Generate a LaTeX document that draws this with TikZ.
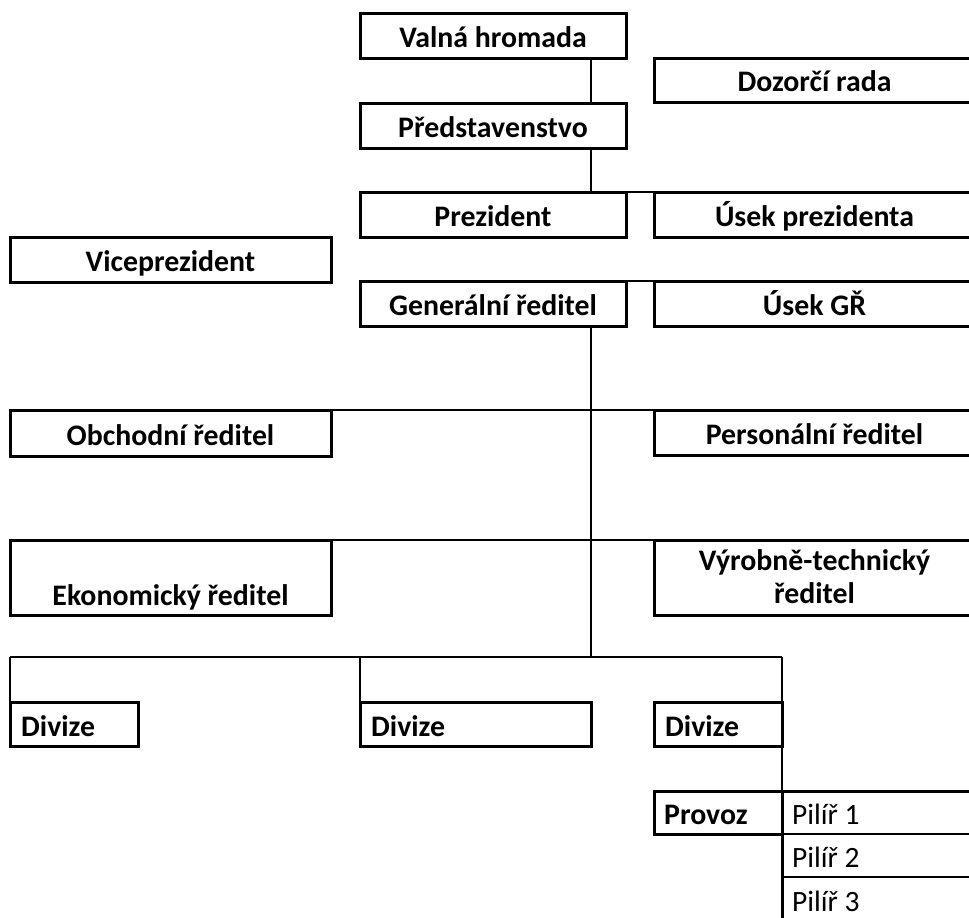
\documentclass[tikz,border=0pt]{standalone}
\usepackage{fontspec}
\setmainfont{Carlito}
\begin{document}
\begin{tikzpicture}[x=1pt,y=-1pt,
  box/.style={draw, line width=3pt, inner sep=0pt, outer sep=0pt, anchor=north west},
  cell/.style={draw, line width=1.4pt, inner sep=0pt, outer sep=0pt, anchor=north west},
  conn/.style={line width=1.4pt},
  thickline/.style={line width=3pt},
  lab/.style={font=\bfseries\fontsize{29.8}{33}\selectfont, inner sep=0pt, anchor=base},
  labw/.style={font=\bfseries\fontsize{29.8}{33}\selectfont, inner sep=0pt, anchor=base west},
  plain/.style={font=\fontsize{29.5}{33}\selectfont, inner sep=0pt, anchor=base west}]
\useasboundingbox (0,0) rectangle (969,918);
\clip (0,0) rectangle (969,918);

% boxes
\node[box, minimum width=266, minimum height=45] (valna) at (360,13) {};
\node[box, minimum width=321, minimum height=44] (dozor) at (654,58) {};
\node[box, minimum width=266, minimum height=45] (pred) at (360,103) {};
\node[box, minimum width=266, minimum height=45] (prez) at (360,192) {};
\node[box, minimum width=321, minimum height=45] (usekp) at (654,192) {};
\node[box, minimum width=321, minimum height=45] (vice) at (10,237) {};
\node[box, minimum width=266, minimum height=45] (gr) at (360,281) {};
\node[box, minimum width=321, minimum height=45] (usekgr) at (654,281) {};
\node[box, minimum width=321, minimum height=46] (obch) at (10,410) {};
\node[box, minimum width=321, minimum height=45] (pers) at (654,410) {};
\node[box, minimum width=321, minimum height=75] (ekon) at (10,540) {};
\node[box, minimum width=321, minimum height=75] (vyr) at (654,540) {};
\node[box, minimum width=128, minimum height=44] (div1) at (10,702) {};
\node[box, minimum width=231, minimum height=44] (div2) at (360,702) {};
\node[box, minimum width=128, minimum height=44] (div3) at (654,702) {};
\node[box, minimum width=128, minimum height=43] (provoz) at (654,791) {};
\node[cell, minimum width=220, minimum height=43] (pil1) at (782,791) {};
\node[cell, minimum width=220, minimum height=43] (pil2) at (782,834) {};
\node[cell, minimum width=220, minimum height=55] (pil3) at (782,877) {};
\draw[thickline] (pil3.south west) -- (pil1.north west) -- (pil1.north east);

% helper coordinates
\coordinate (spine) at (591,0);
\coordinate (bus) at (782,657);

% connectors
\draw[conn] (valna.south -| spine) -- (pred.north -| spine);
\draw[conn] (pred.south -| spine) -- (prez.north -| spine);
\draw[conn] (prez.north east) -- (usekp.north west);
\draw[conn] (gr.north east) -- (usekgr.north west);
\draw[conn] (gr.south -| spine) -- (spine |- bus);
\draw[conn] (obch.north east) -- (pers.north west);
\draw[conn] (ekon.north east) -- (vyr.north west);
\draw[conn] (div1.north west |- bus) -- (bus);
\draw[conn] (div1.north west |- bus) -- (div1.north west);
\draw[conn] (div2.north west |- bus) -- (div2.north west);
\draw[conn] (bus) -- (div3.north east);
\draw[conn] (div3.south east) -- (provoz.north east);

% texts
\node[lab] (tvalna) at ([yshift=11pt]valna.south) {Valná hromada};
\node[lab] (tdozor) at ([yshift=11pt]dozor.south) {Dozorčí rada};
\node[lab] (tpred) at ([yshift=11pt]pred.south) {Představenstvo};
\node[lab] (tprez) at ([yshift=11pt]prez.south) {Prezident};
\node[lab] (tusekp) at ([yshift=11pt]usekp.south) {Úsek prezidenta};
\node[lab] (tvice) at ([yshift=11pt]vice.south) {Viceprezident};
\node[lab] (tgr) at ([yshift=11pt]gr.south) {Generální ředitel};
\node[lab] (tusekgr) at ([yshift=11pt]usekgr.south) {Úsek GŘ};
\node[lab] (tobch) at ([yshift=11pt]obch.south) {Obchodní ředitel};
\node[lab] (tpers) at ([yshift=11pt]pers.south) {Personální ředitel};
\node[lab] (tekon) at ([yshift=10pt]ekon.south) {Ekonomický ředitel};
\node[lab] (tvyrA) at ([yshift=45pt]vyr.south) {Výrobně-technický};
\node[lab] (tvyrB) at ([yshift=12pt]vyr.south) {ředitel};
\node[labw] (tdiv1) at ([xshift=11pt,yshift=10pt]div1.south west) {Divize};
\node[labw] (tdiv2) at ([xshift=11pt,yshift=10pt]div2.south west) {Divize};
\node[labw] (tdiv3) at ([xshift=11pt,yshift=10pt]div3.south west) {Divize};
\node[labw] (tprovoz) at ([xshift=10pt,yshift=10pt]provoz.south west) {Provoz};
\node[plain] (tpil1) at ([xshift=10pt,yshift=10pt]pil1.south west) {Pilíř 1};
\node[plain] (tpil2) at ([xshift=10pt,yshift=10pt]pil2.south west) {Pilíř 2};
\node[plain] (tpil3) at (792,911) {Pilíř 3};
\end{tikzpicture}
\end{document}
